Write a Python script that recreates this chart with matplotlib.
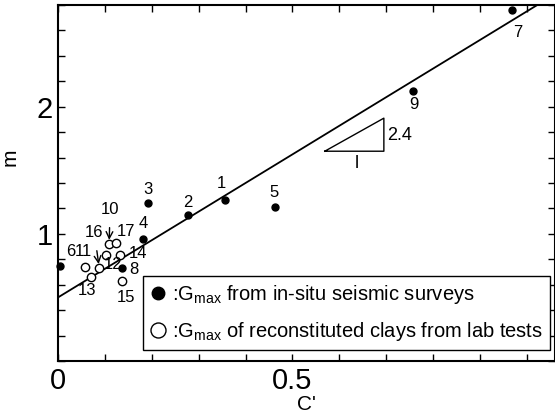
import numpy as np
import matplotlib
matplotlib.use("Agg")
import matplotlib.pyplot as plt
from matplotlib.ticker import FixedLocator, FuncFormatter

plt.rcParams["font.family"] = ["Liberation Sans", "DejaVu Sans"]
plt.rcParams["mathtext.fontset"] = "custom"
plt.rcParams["mathtext.rm"] = "Liberation Sans"

# ── Data ──────────────────────────────────────
# G_max from in-situ seismic surveys (filled)
field_ids = ["1", "2", "3", "4", "5", "6", "7", "8", "9"]
field_c = [0.356, 0.277, 0.192, 0.181, 0.463, 0.004, 0.968, 0.136, 0.757]
field_m = [1.27, 1.15, 1.24, 0.96, 1.21, 0.75, 2.76, 0.73, 2.12]

# G_max of reconstituted clays from lab tests (open)
lab_ids = ["10", "11", "12", "13", "14", "15", "16", "17"]
lab_c = [0.109, 0.058, 0.102, 0.070, 0.132, 0.137, 0.088, 0.123]
lab_m = [0.92, 0.74, 0.83, 0.66, 0.83, 0.63, 0.73, 0.93]

# label offsets (pixels) from each point
field_offsets = {"1": (-4, 16), "2": (0, 12), "3": (0, 14), "4": (0, 15),
                 "5": (-1, 15), "6": (11, 14), "7": (6, -22), "8": (12, -1),
                 "9": (1, -13)}
lab_offsets = {"10": (1, 35), "11": (-2, 15), "12": (7, -9), "13": (-4, -13),
               "14": (18, 2), "15": (4, -17), "16": (-5, 36), "17": (10, 11)}
arrow_ids = ["10", "16"]

# fitted line m = a + b * C'
fit_a = 0.50
fit_b = 2.25

# slope triangle
tri_c = [0.569, 0.695, 0.695, 0.569]
tri_m = [1.65, 1.65, 1.91, 1.65]

# ── Plot ──────────────────────────────────────
fig = plt.figure(figsize=(5.55, 4.19), dpi=100)
ax = fig.add_axes([58 / 555, 58 / 419, 497 / 555, 356 / 419])
ax.set_xlim(0, 1.06)
ax.set_ylim(0, 2.8)

c_line = np.array([0.0, 1.06])
ax.plot(c_line, fit_a + fit_b * c_line, color="black", lw=1.3, zorder=2)

h_field, = ax.plot(field_c, field_m, "o", color="black", ms=5, zorder=3,
                   clip_on=False)
h_lab, = ax.plot(lab_c, lab_m, "o", mfc="white", mec="black", mew=1.0, ms=6,
                 zorder=3)

for lbl, c, m in zip(field_ids, field_c, field_m):
    ax.annotate(lbl, (c, m), xytext=field_offsets[lbl], textcoords="offset pixels",
                ha="center", va="center", fontsize=12)
for lbl, c, m in zip(lab_ids, lab_c, lab_m):
    dx, dy = lab_offsets[lbl]
    props = None
    if lbl in arrow_ids:
        props = dict(arrowstyle="->", color="black", lw=1.0, shrinkA=6, shrinkB=3)
    ax.annotate(lbl, (c, m), xytext=(dx, dy), textcoords="offset pixels",
                ha="center", va="center", fontsize=12, arrowprops=props)

ax.plot(tri_c, tri_m, color="black", lw=1.0)
ax.text(0.703, 1.77, "2.4", fontsize=13, va="center", ha="left")
ax.text(0.638, 1.55, "l", fontsize=13, va="center", ha="center")

# ticks
ax.xaxis.set_major_locator(FixedLocator(np.arange(0, 1.01, 0.1)))
ax.yaxis.set_major_locator(FixedLocator(np.arange(0, 2.81, 0.2)))
x_named = {0.0: "0", 0.5: "0.5"}
y_named = {1.0: "1", 2.0: "2"}
ax.xaxis.set_major_formatter(FuncFormatter(lambda v, p: x_named.get(round(v, 2), "")))
ax.yaxis.set_major_formatter(FuncFormatter(lambda v, p: y_named.get(round(v, 2), "")))
ax.tick_params(direction="in", length=5, width=1.0, labelsize=21,
               top=True, right=True, pad=4)
for s in ax.spines.values():
    s.set_linewidth(1.5)

ax.set_xlabel("C'", fontsize=15, labelpad=0)
ax.set_ylabel("m", fontsize=15)
ax.yaxis.set_label_coords(-0.078, 0.573)

leg = ax.legend([h_field, h_lab],
                [r":G$_{\mathregular{max}}$ from in-situ seismic surveys",
                 r":G$_{\mathregular{max}}$ of reconstituted clays from lab tests"],
                loc="lower right", bbox_to_anchor=(0.99, 0.03), fontsize=14.5,
                markerscale=1.8, handlelength=0.8, handletextpad=0.3,
                borderpad=0.35, labelspacing=0.7, borderaxespad=0,
                fancybox=False, edgecolor="black", framealpha=1)
leg.get_frame().set_linewidth(1.0)

fig.savefig("out.png", dpi=100)
